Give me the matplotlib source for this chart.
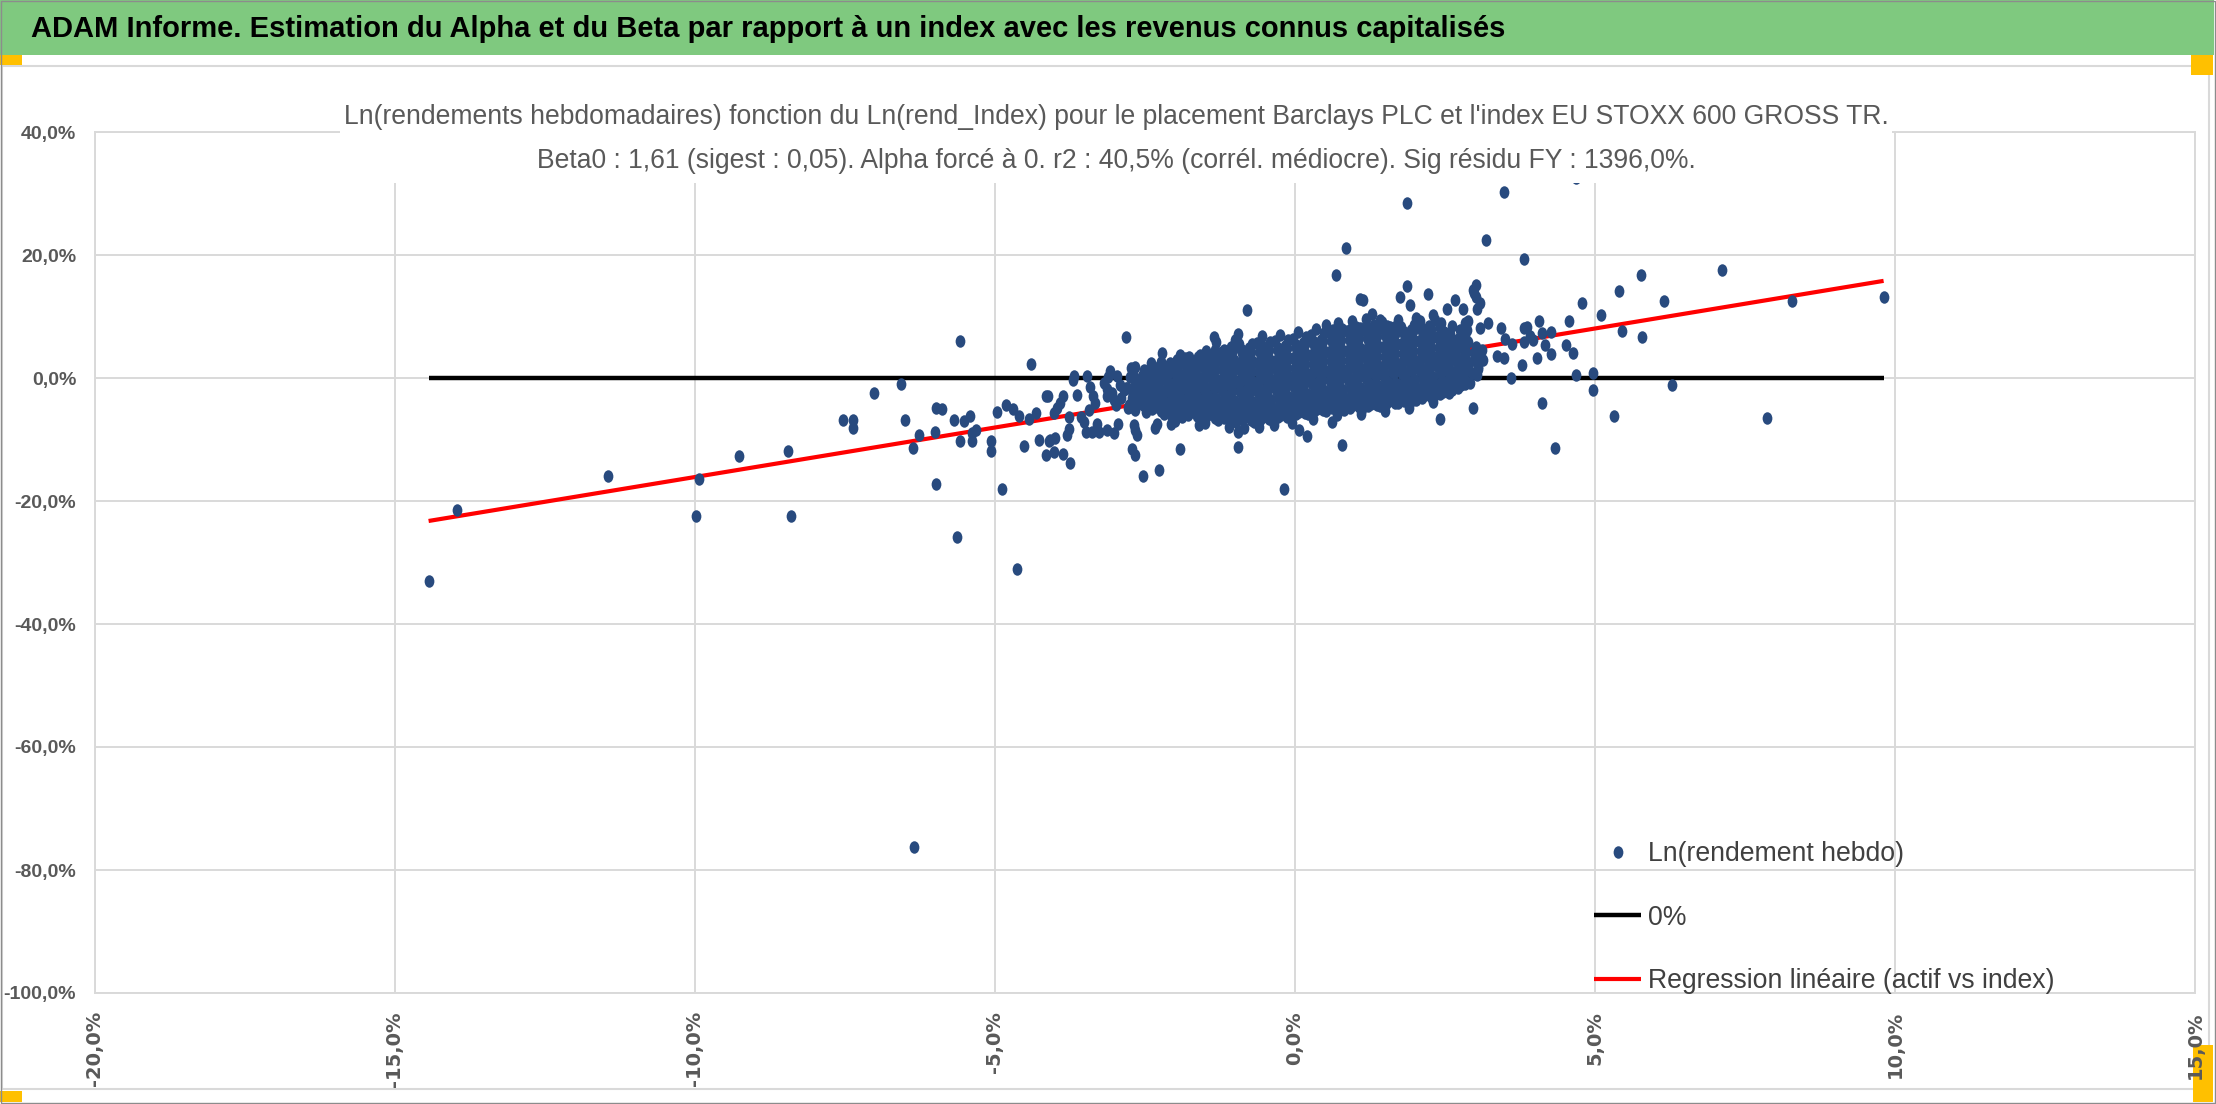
import matplotlib
matplotlib.use("Agg")
import matplotlib.pyplot as plt
from matplotlib.patches import Rectangle
from matplotlib.path import Path
from matplotlib.transforms import Affine2D
from matplotlib.ticker import MultipleLocator, FuncFormatter

# weekly log returns in % : (index, asset) - dense central cloud
core_pts = [
    (-2.78, -4.8), (-2.72, -3.2), (-2.80, -1.6), (-2.75, 0.2), (-2.66, 1.8), (-2.62, -4.0), (-2.60, -2.3), (-2.64, -0.6),
    (-2.69, -4.4), (-2.70, -2.7), (-2.67, -1.1), (-2.71, 0.6), (-2.54, -4.4), (-2.56, -3.1), (-2.53, -1.5),
    (-2.55, 0.4), (-2.52, 1.3),
    (-2.48, -5.5), (-2.45, -3.9), (-2.50, -2.2), (-2.42, -0.7), (-2.47, 0.9), (-2.40, 2.4), (-2.33, -4.7), (-2.30, -3.0),
    (-2.35, -1.4), (-2.28, 0.3), (-2.32, 1.6), (-2.39, -5.1), (-2.40, -3.4), (-2.37, -1.8), (-2.41, -0.1), (-2.38, 1.3),
    (-2.24, -5.3), (-2.26, -3.6), (-2.23, -2.0), (-2.25, -0.4), (-2.22, 1.0), (-2.24, 2.6),
    (-2.18, -5.9), (-2.15, -4.3), (-2.20, -2.7), (-2.12, -1.1), (-2.16, 0.5), (-2.10, 2.0), (-2.03, -5.1), (-2.00, -3.5),
    (-2.05, -1.9), (-1.98, -0.3), (-2.02, 1.2), (-1.97, 2.9), (-2.09, -5.5), (-2.10, -3.9), (-2.07, -2.3), (-2.11, -0.6),
    (-2.08, 1.0), (-2.09, 2.5), (-1.94, -5.7), (-1.96, -4.1), (-1.93, -2.5), (-1.95, -0.9), (-1.92, 0.7), (-1.94, 2.2),
    (-1.88, -6.4), (-1.85, -4.8), (-1.90, -3.2), (-1.82, -1.6), (-1.86, 0.0), (-1.80, 1.6), (-1.84, 3.2), (-1.73, -5.6),
    (-1.70, -4.0), (-1.75, -2.4), (-1.68, -0.8), (-1.72, 0.8), (-1.67, 2.4), (-1.79, -6.0), (-1.80, -4.4), (-1.77, -2.8),
    (-1.81, -1.2), (-1.78, 0.4), (-1.79, 2.0), (-1.76, 3.4), (-1.64, -6.2), (-1.66, -4.6), (-1.63, -3.0), (-1.65, -1.4),
    (-1.62, 0.2), (-1.64, 1.8), (-1.61, 3.4),
    (-1.58, -6.7), (-1.55, -5.1), (-1.60, -3.5), (-1.52, -1.9), (-1.56, -0.3), (-1.50, 1.3), (-1.54, 2.9), (-1.49, 4.4),
    (-1.43, -5.9), (-1.40, -4.3), (-1.45, -2.7), (-1.38, -1.1), (-1.42, 0.5), (-1.37, 2.1), (-1.41, 3.6),
    (-1.49, -6.3), (-1.50, -4.7), (-1.47, -3.1), (-1.51, -1.5), (-1.48, 0.1), (-1.49, 1.7), (-1.46, 3.3),
    (-1.34, -6.5), (-1.36, -4.9), (-1.33, -3.3), (-1.35, -1.7), (-1.32, -0.1), (-1.34, 1.5), (-1.31, 3.1), (-1.33, 4.6),
    (-1.28, -6.9), (-1.25, -5.3), (-1.30, -3.7), (-1.22, -2.1), (-1.26, -0.5), (-1.20, 1.1), (-1.24, 2.7), (-1.19, 4.3),
    (-1.13, -6.1), (-1.10, -4.5), (-1.15, -2.9), (-1.08, -1.3), (-1.12, 0.3), (-1.07, 1.9), (-1.11, 3.5), (-1.06, 5.0),
    (-1.19, -6.5), (-1.20, -4.9), (-1.17, -3.3), (-1.21, -1.7), (-1.18, -0.1), (-1.19, 1.5), (-1.16, 3.1), (-1.18, 4.6),
    (-1.04, -6.7), (-1.06, -5.1), (-1.03, -3.5), (-1.05, -1.9), (-1.02, -0.3), (-1.04, 1.3), (-1.01, 2.9), (-1.03, 4.5),
    (-0.98, -7.1), (-0.95, -5.5), (-1.00, -3.9), (-0.92, -2.3), (-0.96, -0.7), (-0.90, 0.9), (-0.94, 2.5), (-0.89, 4.1),
    (-0.93, 5.5), (-0.83, -6.3), (-0.80, -4.7), (-0.85, -3.1), (-0.78, -1.5), (-0.82, 0.1), (-0.77, 1.7), (-0.81, 3.3),
    (-0.76, 4.8), (-0.89, -6.7), (-0.90, -5.1), (-0.87, -3.5), (-0.91, -1.9), (-0.88, -0.3), (-0.89, 1.3), (-0.86, 2.9),
    (-0.88, 4.5), (-0.74, -6.9), (-0.76, -5.3), (-0.73, -3.7), (-0.75, -2.1), (-0.72, -0.5), (-0.74, 1.1), (-0.71, 2.7),
    (-0.73, 4.3), (-0.72, 5.6),
    (-0.68, -7.2), (-0.65, -5.6), (-0.70, -4.0), (-0.62, -2.4), (-0.66, -0.8), (-0.60, 0.8), (-0.64, 2.4), (-0.59, 4.0),
    (-0.63, 5.7), (-0.53, -6.4), (-0.50, -4.8), (-0.55, -3.2), (-0.48, -1.6), (-0.52, 0.0), (-0.47, 1.6), (-0.51, 3.2),
    (-0.46, 4.8), (-0.59, -6.8), (-0.60, -5.2), (-0.57, -3.6), (-0.61, -2.0), (-0.58, -0.4), (-0.59, 1.2), (-0.56, 2.8),
    (-0.58, 4.4), (-0.57, 5.6), (-0.44, -6.6), (-0.46, -5.0), (-0.43, -3.4), (-0.45, -1.8), (-0.42, -0.2), (-0.44, 1.4),
    (-0.41, 3.0), (-0.43, 4.6), (-0.42, 5.9),
    (-0.38, -6.8), (-0.35, -5.2), (-0.40, -3.6), (-0.32, -2.0), (-0.36, -0.4), (-0.30, 1.2), (-0.34, 2.8), (-0.29, 4.4),
    (-0.33, 6.0), (-0.23, -6.0), (-0.20, -4.4), (-0.25, -2.8), (-0.18, -1.2), (-0.22, 0.4), (-0.17, 2.0), (-0.21, 3.6),
    (-0.16, 5.2), (-0.29, -6.4), (-0.30, -4.8), (-0.27, -3.2), (-0.31, -1.6), (-0.28, 0.0), (-0.29, 1.6), (-0.26, 3.2),
    (-0.28, 4.8), (-0.14, -6.3), (-0.16, -4.7), (-0.13, -3.1), (-0.15, -1.5), (-0.12, 0.1), (-0.14, 1.7), (-0.11, 3.3),
    (-0.13, 4.9), (-0.12, 6.1),
    (-0.08, -6.3), (-0.05, -4.7), (-0.10, -3.1), (-0.02, -1.5), (-0.06, 0.1), (0.00, 1.7), (-0.04, 3.3), (0.01, 4.9),
    (-0.03, 6.3), (0.07, -5.5), (0.10, -3.9), (0.05, -2.3), (0.12, -0.7), (0.08, 0.9), (0.13, 2.5), (0.09, 4.1),
    (0.14, 5.7), (0.01, -5.9), (0.00, -4.3), (0.03, -2.7), (-0.01, -1.1), (0.02, 0.5), (0.01, 2.1), (0.04, 3.7),
    (0.02, 5.3), (0.16, -5.7), (0.14, -4.1), (0.17, -2.5), (0.15, -0.9), (0.18, 0.7), (0.16, 2.3), (0.19, 3.9),
    (0.17, 5.5), (0.18, 6.6),
    (0.22, -5.8), (0.25, -4.2), (0.20, -2.6), (0.28, -1.0), (0.24, 0.6), (0.30, 2.2), (0.26, 3.8), (0.31, 5.4),
    (0.27, 7.0), (0.37, -5.0), (0.40, -3.4), (0.35, -1.8), (0.42, -0.2), (0.38, 1.4), (0.43, 3.0), (0.39, 4.6),
    (0.44, 6.2), (0.31, -5.4), (0.30, -3.8), (0.33, -2.2), (0.29, -0.6), (0.32, 1.0), (0.31, 2.6), (0.34, 4.2),
    (0.32, 5.8), (0.46, -5.2), (0.44, -3.6), (0.47, -2.0), (0.45, -0.4), (0.48, 1.2), (0.46, 2.8), (0.49, 4.4),
    (0.47, 6.0), (0.48, 7.3),
    (0.52, -5.3), (0.55, -3.7), (0.50, -2.1), (0.58, -0.5), (0.54, 1.1), (0.60, 2.7), (0.56, 4.3), (0.61, 5.9),
    (0.57, 7.5), (0.67, -4.5), (0.70, -2.9), (0.65, -1.3), (0.72, 0.3), (0.68, 1.9), (0.73, 3.5), (0.69, 5.1),
    (0.74, 6.7), (0.61, -4.9), (0.60, -3.3), (0.63, -1.7), (0.59, -0.1), (0.62, 1.5), (0.61, 3.1), (0.64, 4.7),
    (0.62, 6.3), (0.63, 7.8), (0.76, -5.0), (0.74, -3.4), (0.77, -1.8), (0.75, -0.2), (0.78, 1.4), (0.76, 3.0),
    (0.79, 4.6), (0.77, 6.2), (0.78, 7.9),
    (0.82, -5.2), (0.85, -3.6), (0.80, -2.0), (0.88, -0.4), (0.84, 1.2), (0.90, 2.8), (0.86, 4.4), (0.91, 6.0),
    (0.87, 7.6), (0.97, -4.4), (1.00, -2.8), (0.95, -1.2), (1.02, 0.4), (0.98, 2.0), (1.03, 3.6), (0.99, 5.2),
    (1.04, 6.8), (1.01, 8.3), (0.91, -4.8), (0.90, -3.2), (0.93, -1.6), (0.89, 0.0), (0.92, 1.6), (0.91, 3.2),
    (0.94, 4.8), (0.92, 6.4), (0.93, 8.0), (1.06, -4.7), (1.04, -3.1), (1.07, -1.5), (1.05, 0.1), (1.08, 1.7),
    (1.06, 3.3), (1.09, 4.9), (1.07, 6.5), (1.08, 8.1),
    (1.12, -5.0), (1.15, -3.4), (1.10, -1.8), (1.18, -0.2), (1.14, 1.4), (1.20, 3.0), (1.16, 4.6), (1.21, 6.2),
    (1.17, 7.8), (1.27, -4.2), (1.30, -2.6), (1.25, -1.0), (1.32, 0.6), (1.28, 2.2), (1.33, 3.8), (1.29, 5.4),
    (1.34, 7.0), (1.31, 8.6), (1.21, -4.6), (1.20, -3.0), (1.23, -1.4), (1.19, 0.2), (1.22, 1.8), (1.21, 3.4),
    (1.24, 5.0), (1.22, 6.6), (1.23, 8.2), (1.36, -4.4), (1.34, -2.8), (1.37, -1.2), (1.35, 0.4), (1.38, 2.0),
    (1.36, 3.6), (1.39, 5.2), (1.37, 6.8), (1.38, 8.4),
    (1.42, -4.6), (1.45, -3.0), (1.40, -1.4), (1.48, 0.2), (1.44, 1.8), (1.50, 3.4), (1.46, 5.0), (1.51, 6.6),
    (1.47, 8.2), (1.57, -3.8), (1.60, -2.2), (1.55, -0.6), (1.62, 1.0), (1.58, 2.6), (1.63, 4.2), (1.59, 5.8),
    (1.64, 7.4), (1.51, -4.2), (1.50, -2.6), (1.53, -1.0), (1.49, 0.6), (1.52, 2.2), (1.51, 3.8), (1.54, 5.4),
    (1.52, 7.0), (1.53, 8.5), (1.66, -4.0), (1.64, -2.4), (1.67, -0.8), (1.65, 0.8), (1.68, 2.4), (1.66, 4.0),
    (1.69, 5.6), (1.67, 7.2), (1.68, 8.4),
    (1.72, -4.1), (1.75, -2.5), (1.70, -0.9), (1.78, 0.7), (1.74, 2.3), (1.80, 3.9), (1.76, 5.5), (1.81, 7.1),
    (1.77, 8.3), (1.87, -3.3), (1.90, -1.7), (1.85, -0.1), (1.92, 1.5), (1.88, 3.1), (1.93, 4.7), (1.89, 6.3),
    (1.94, 7.8), (1.81, -3.7), (1.80, -2.1), (1.83, -0.5), (1.79, 1.1), (1.82, 2.7), (1.81, 4.3), (1.84, 5.9),
    (1.82, 7.5), (1.96, -3.6), (1.94, -2.0), (1.97, -0.4), (1.95, 1.2), (1.98, 2.8), (1.96, 4.4), (1.99, 6.0),
    (1.97, 7.6), (1.98, 8.6),
    (2.02, -3.6), (2.05, -2.0), (2.00, -0.4), (2.08, 1.2), (2.04, 2.8), (2.10, 4.4), (2.06, 6.0), (2.11, 7.6),
    (2.17, -2.8), (2.20, -1.2), (2.15, 0.4), (2.22, 2.0), (2.18, 3.6), (2.23, 5.2), (2.19, 6.8), (2.24, 8.4),
    (2.11, -3.2), (2.10, -1.6), (2.13, 0.0), (2.09, 1.6), (2.12, 3.2), (2.11, 4.8), (2.14, 6.4), (2.12, 8.0),
    (2.26, -3.1), (2.24, -1.5), (2.27, 0.1), (2.25, 1.7), (2.28, 3.3), (2.26, 4.9), (2.29, 6.5), (2.27, 7.9),
    (2.32, -3.0), (2.35, -1.4), (2.30, 0.2), (2.38, 1.8), (2.34, 3.4), (2.40, 5.0), (2.36, 6.6), (2.41, 8.2),
    (2.47, -2.2), (2.50, -0.6), (2.45, 1.0), (2.52, 2.6), (2.48, 4.2), (2.53, 5.8), (2.49, 7.4),
    (2.41, -2.6), (2.40, -1.0), (2.43, 0.6), (2.39, 2.2), (2.42, 3.8), (2.41, 5.4), (2.44, 7.0), (2.42, 8.5),
    (2.56, -2.4), (2.54, -0.8), (2.57, 0.8), (2.55, 2.4), (2.58, 4.0), (2.56, 5.6), (2.59, 7.2),
    (2.62, -2.0), (2.65, -0.4), (2.60, 1.2), (2.68, 2.8), (2.64, 4.4), (2.70, 6.0), (2.77, -1.2), (2.80, 0.4),
    (2.75, 2.0), (2.82, 3.6), (2.78, 5.2), (2.83, 6.9), (2.71, -1.6), (2.70, 0.0), (2.73, 1.6), (2.69, 3.2),
    (2.72, 4.8), (2.71, 6.4), (2.86, -0.6), (2.84, 1.0), (2.87, 2.6), (2.85, 4.2), (2.88, 5.8),
    (2.92, -0.8), (2.95, 0.8), (2.90, 2.4), (2.98, 4.0), (3.05, 1.5), (3.08, 3.2), (3.02, 5.0), (2.99, 3.0),
    (3.03, 4.4),
    # ragged rim of the cloud
    (0.35, 7.9), (0.52, 8.6), (0.72, 8.9), (0.95, 9.3), (1.18, 9.6), (1.45, 9.1), (1.72, 9.5), (2.02, 9.8),
    (2.33, 9.4), (2.62, 8.4), (2.75, 7.8), (0.05, 7.5), (-0.25, 7.0), (-0.55, 6.8), (-1.00, 6.2),
    (-1.10, -7.9), (-0.85, -8.2), (-0.60, -8.0), (-0.35, -7.7), (-0.05, -7.3), (0.30, -6.6), (0.70, -6.0),
    (1.10, -5.8), (1.50, -5.4), (1.90, -4.8), (2.30, -3.9), (-1.60, -7.6), (-2.00, -7.0),
]

# weeks lying outside the central cloud (index %, asset %)
tail_pts = [
    (-14.44, -33.0), (-13.97, -21.5), (-11.45, -15.9), (-9.93, -16.5), (-9.98, -22.4), (-9.27, -12.7),
    (-8.45, -11.8), (-8.40, -22.4), (-7.53, -6.8), (-7.37, -6.8), (-7.37, -8.1), (-7.02, -2.5),
    (-6.56, -1.0), (-6.50, -6.8), (-6.26, -9.2), (-6.37, -11.4), (-6.35, -76.3), (-5.98, -4.8),
    (-5.88, -5.1), (-6.00, -8.7), (-5.98, -17.2), (-5.58, 6.0), (-5.64, -25.9), (-5.69, -6.8),
    (-5.51, -7.0), (-5.41, -6.1), (-5.58, -10.2), (-5.39, -10.3), (-5.31, -8.5), (-5.39, -8.9),
    (-5.07, -10.3), (-5.06, -11.9), (-4.97, -5.6), (-4.88, -18.1), (-4.82, -4.4), (-4.70, -5.0),
    (-4.60, -6.2), (-4.64, -31.0), (-4.40, 2.3), (-4.52, -11.1), (-4.43, -6.6), (-4.31, -5.7),
    (-4.26, -10.0), (-4.15, -3.0), (-4.15, -12.6), (-4.10, -10.2),
    (-4.01, -12.1), (-4.11, -2.9), (-4.02, -5.7), (-3.97, -4.9), (-3.91, -4.1), (-3.87, -3.0),
    (-4.08, -10.1), (-4.00, -9.8), (-3.87, -12.4), (-3.75, -13.8), (-3.80, -9.3), (-3.76, -8.3),
    (-3.77, -6.3), (-3.70, -0.3), (-3.68, 0.3), (-3.64, -2.8), (-3.56, -6.3), (-3.51, -7.1),
    (-3.48, -8.7), (-3.38, -8.7), (-3.27, -8.7), (-3.14, -8.5), (-3.46, 0.3), (-3.42, -1.4),
    (-3.37, -3.0), (-3.33, -4.1), (-3.44, -5.2), (-3.30, -7.5), (-3.14, -1.8), (-3.13, -3.0),
    (-3.08, 1.1), (-3.11, 0.1), (-3.02, -3.6), (-2.99, -4.4), (-3.02, -9.0), (-2.95, -7.5),
    (-2.91, -1.1), (-2.85, -2.0), (-2.81, -1.7), (-2.81, 6.6), (-2.74, 1.6), (-2.70, 0.5),
    (-2.77, -4.4), (-2.71, -4.7), (-2.66, -5.2), (-2.69, -7.6), (-2.67, -8.5), (-2.63, -9.3),
    (-2.72, -11.6), (-2.66, -12.5), (-2.53, -15.9), (-2.27, -15.0), (-2.34, -8.2), (-2.30, -7.4),
    (-2.58, -1.1), (-2.55, -2.5), (-2.46, -0.1), (-2.40, -1.4), (-2.35, -0.3), (-2.21, 4.0),
    (-2.23, 2.4), (-2.07, -6.0), (-2.07, -7.4), (-1.92, -11.5), (-1.91, 3.7), (-1.96, 2.9),
    (-2.02, 2.1), (-1.58, 3.7), (-1.50, -7.3), (-1.35, 6.7), (-1.31, 5.9), (-1.21, 4.3),
    (-0.95, 7.2), (-0.80, 11.1), (-0.95, -8.7), (-0.95, -11.3), (-0.19, -18.0), (0.06, -8.5),
    (0.20, -9.5), (0.61, -7.1), (0.78, -10.9), (2.42, -6.6), (2.96, -4.8),
    (-3.05, -2.4), (-2.96, 0.4), (-2.90, -3.2), (-3.18, -0.8),
    (0.85, 21.1), (0.68, 16.7), (1.13, 12.7), (1.86, 14.9), (1.75, 13.1), (1.91, 11.9),
    (2.21, 13.7), (2.53, 11.3), (2.67, 12.7), (2.98, 13.8), (3.02, 15.2), (3.08, 12.2),
    (1.86, 28.5), (3.48, 30.3), (3.18, 22.5), (3.82, 19.3), (4.68, 32.5),
    (1.08, 12.8), (2.80, 11.2), (2.97, 14.3), (3.02, 13.2), (3.04, 11.2), (1.29, 10.4),
    (1.41, 9.4), (1.58, 8.3), (2.08, 9.2), (2.30, 10.2), (2.44, 8.9), (2.89, 9.2),
    (3.08, 8.1), (3.22, 8.9), (3.44, 8.1), (3.50, 6.4), (3.61, 5.6), (3.86, 8.3),
    (4.06, 9.2), (4.11, 7.3), (3.81, 5.9), (3.97, 6.2), (4.17, 5.4), (3.78, 2.1),
    (4.03, 3.2), (3.14, 2.9), (3.37, 3.5), (3.48, 3.2), (3.03, 0.5), (3.60, 0.0),
    (3.11, 4.5), (2.84, 8.9), (2.87, 7.8), (2.65, -1.4), (2.84, -1.0), (2.10, -3.1),
    (2.31, -1.6), (3.05, 1.8), (2.84, 2.3),
    (4.12, -4.1), (4.34, -11.4), (4.97, -2.0), (4.96, 0.8), (4.68, 0.5), (5.32, -6.2),
    (6.28, -1.2), (7.87, -6.5), (9.81, 13.2), (8.29, 12.5), (7.12, 17.6), (6.15, 12.5),
    (5.76, 16.8), (5.79, 6.7), (5.45, 7.6), (5.40, 14.1), (5.10, 10.3), (4.79, 12.2),
    (4.57, 9.3), (4.64, 4.0), (4.52, 5.3), (4.26, 3.9), (4.26, 7.4), (3.92, 6.8), (3.81, 8.2),
]

beta0 = 1.61  # slope, alpha forced to 0

title_main = ("ADAM Informe. Estimation du Alpha et du Beta par rapport à un index "
              "avec les revenus connus capitalisés")
subtitle_1 = ("Ln(rendements hebdomadaires) fonction du Ln(rend_Index) pour le placement "
              "Barclays PLC et l'index EU STOXX 600 GROSS TR.")
subtitle_2 = ("Beta0 : 1,61 (sigest : 0,05). Alpha forcé à 0. r2 : 40,5% (corrél. médiocre). "
              "Sig résidu FY : 1396,0%.")
legend_labels = ["Ln(rendement hebdo)", "0%", "Regression linéaire (actif vs index)"]

SANS = "Liberation Sans"

W, H = 2216, 1104
fig = plt.figure(figsize=(W / 100, H / 100), dpi=100, facecolor="white")
px = Affine2D().scale(1 / W, -1 / H).translate(0, 1) + fig.transFigure

ax = fig.add_axes([95 / W, 111 / H, 2100 / W, 861 / H])
ax.set_xlim(-20, 15)
ax.set_ylim(-100, 40)

pts = core_pts + tail_pts
xs = [p[0] for p in pts]
ys = [p[1] for p in pts]

x_lo, x_hi = min(xs), max(xs)
zl, = ax.plot([x_lo, x_hi], [0, 0], color="black", lw=3.2, solid_capstyle="butt", zorder=2)
rl, = ax.plot([x_lo, x_hi], [beta0 * x_lo, beta0 * x_hi], color="#ff0000", lw=3.0,
              solid_capstyle="butt", zorder=2)

dot = Path.unit_circle().transformed(Affine2D().scale(0.78, 1.0))
sc, = ax.plot(xs, ys, linestyle="none", marker=dot, markersize=9, color="#284a7e",
              markeredgewidth=0, zorder=3)

grid_c = "#d9d9d9"
ax.xaxis.set_major_locator(MultipleLocator(5))
ax.yaxis.set_major_locator(MultipleLocator(20))
ax.grid(True, color=grid_c, lw=1.4)
ax.set_axisbelow(True)
for s in ax.spines.values():
    s.set_color(grid_c)
    s.set_linewidth(1.4)

pct = FuncFormatter(lambda v, _: f"{v:.1f}%".replace(".", ","))
ax.xaxis.set_major_formatter(pct)
ax.yaxis.set_major_formatter(pct)
ax.tick_params(length=0)
ax.tick_params(axis="x", pad=13, labelrotation=90)
ax.tick_params(axis="y", pad=13.5)
for lab in ax.get_xticklabels():
    lab.set_fontfamily("DejaVu Sans")
    lab.set_fontweight("bold")
    lab.set_fontsize(14)
    lab.set_color("#595959")
for lab in ax.get_yticklabels():
    lab.set_fontfamily(SANS)
    lab.set_fontweight("bold")
    lab.set_fontsize(14)
    lab.set_color("#595959")

ax.legend([sc, zl, rl], legend_labels, loc="upper left", bbox_to_anchor=(0.714, 0.176),
          frameon=False, borderpad=0, borderaxespad=0, handlelength=1.75, handletextpad=0.25,
          labelspacing=1.40, numpoints=1, prop={"family": SANS, "size": 19.2},
          labelcolor="#404040")

# banner, chart frame and selection handles
fig.add_artist(Rectangle((0, 0), 2214, 55, transform=px, facecolor="#7fc97f", edgecolor="none", zorder=1))
fig.add_artist(Rectangle((2, 66), 2207, 1023, transform=px, facecolor="none", edgecolor=grid_c,
                         lw=1.5, zorder=-1))
fig.add_artist(Rectangle((0.5, 0.5), 2214, 1102, transform=px, facecolor="none", edgecolor="#8c8c8c",
                         lw=1.0, zorder=1))
for (hx, hy, hw, hh) in [(0, 55, 22, 10), (2191, 55, 22, 20), (2193, 1045, 20, 57), (0, 1091, 22, 11)]:
    fig.add_artist(Rectangle((hx, hy), hw, hh, transform=px, facecolor="#ffc000", edgecolor="none",
                             zorder=-1))

fig.text(31, 29, title_main, transform=px, ha="left", va="center", fontsize=21,
         fontweight="bold", family=SANS, color="black", zorder=3)

# chart title box sits over the plot area
fig.add_artist(Rectangle((340, 86), 1552, 97, transform=px, facecolor="white", edgecolor="none", zorder=2))
fig.text(1116, 124, subtitle_1, transform=px, ha="center", va="baseline", fontsize=19.1,
         family=SANS, color="#595959", zorder=3)
fig.text(1116, 168, subtitle_2, transform=px, ha="center", va="baseline", fontsize=19.1,
         family=SANS, color="#595959", zorder=3)

fig.savefig("out.png", dpi=100, facecolor="white")
